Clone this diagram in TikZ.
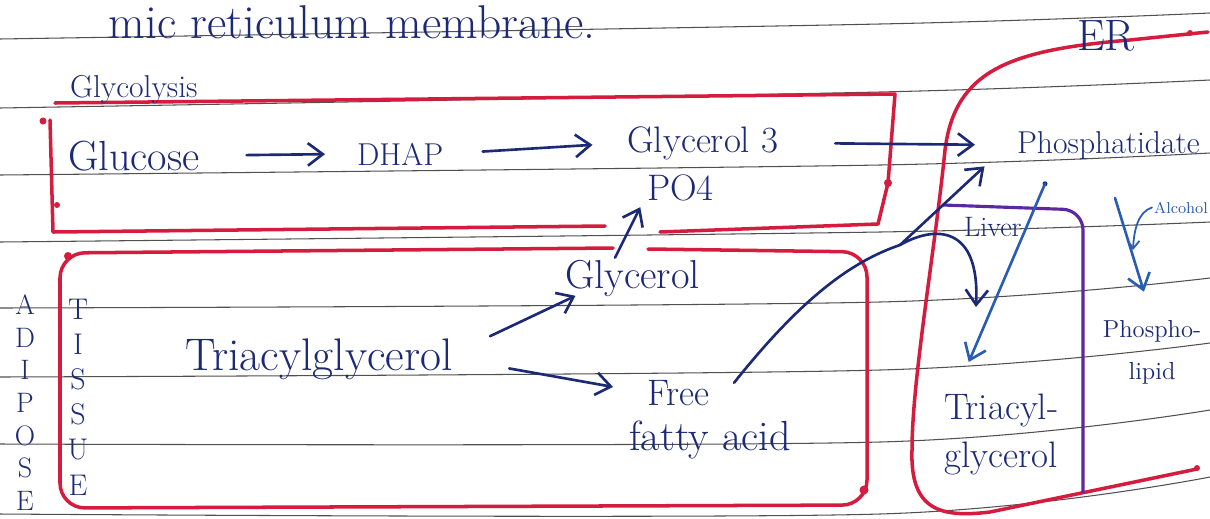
\documentclass[tikz,border=0pt]{standalone}
\usepackage{tikz}
\usetikzlibrary{arrows.meta,calc}
\definecolor{ink}{RGB}{28,42,118}
\definecolor{inklight}{RGB}{42,92,180}
\definecolor{pen}{RGB}{214,28,62}
\definecolor{liverink}{RGB}{92,40,162}
\definecolor{ruling}{RGB}{80,80,80}
\newcommand{\penfont}[1]{\fontsize{#1}{#1}\selectfont}

\begin{document}
\begin{tikzpicture}[x=0.02cm, y=-0.02cm,
    hand/.style={text=ink, inner sep=1pt},
    wire/.style={ink, line width=1.5pt, line cap=round},
    arr/.style={wire, -{Straight Barb[length=3mm,width=4.5mm]}},
    arrsmall/.style={wire, line width=1pt, -{Straight Barb[length=1.6mm,width=2.4mm]}},
    box/.style={pen, line width=2pt, line cap=round, line join=round},
    rule/.style={ruling, line width=0.6pt}]
        \fill[white] (0,0) rectangle (1210,518);
        \useasboundingbox (0,0) rectangle (1210,518);

        % ruled paper
        \draw[rule] plot[smooth] coordinates {(0,39) (880,24) (1210,13)};
        \draw[rule] plot[smooth] coordinates {(0,108) (880,92) (1210,80)};
        \draw[rule] plot[smooth] coordinates {(0,175) (880,165) (1210,153)};
        \draw[rule] plot[smooth] coordinates {(0,242) (880,232) (1210,222)};
        \draw[rule] plot[smooth] coordinates {(0,308) (880,302) (1210,278)};
        \draw[rule] plot[smooth] coordinates {(0,377) (880,370) (1210,343)};
        \draw[rule] plot[smooth] coordinates {(0,444) (880,442) (1210,410)};
        \draw[rule] plot[smooth] coordinates {(0,514) (880,514) (1210,477)};

        % boxes
        \draw[box] (50,120) -- (53,232) -- (605,226);
        \draw[box] (660,232) -- (878,224) -- (888,183) -- (895,94) -- (55,103);
        \draw[box, rounded corners=0.5cm] (613,248) -- (60,253) -- (60,508) -- (867,505) -- (867,252) -- (648,249);
        \draw[box] (1208,32) -- (1130,40) .. controls (1010,50) and (955,70) .. (945,150)
            .. controls (935,250) and (912,380) .. (912,450)
            .. controls (910,510) and (940,518) .. (990,512) -- (1197,469);
        \draw[liverink, line width=1.8pt, rounded corners=0.4cm] (943,205) -- (1083,210) -- (1083,493);

        \fill[pen] (43,121) circle (0.07cm);
        \fill[pen] (57,205) circle (0.06cm);
        \fill[pen] (888,183) circle (0.08cm);
        \fill[pen] (68,256) circle (0.08cm);
        \fill[pen] (864,490) circle (0.09cm);
        \fill[pen] (1190,33) circle (0.06cm);
        \fill[pen] (1197,468) circle (0.06cm);

        % texts
        \node[hand, anchor=base, font=\penfont{27}] (title) at (352,38) {mic reticulum membrane.};
        \node[hand, anchor=base west, font=\penfont{18}] (glyco) at (68,97) {Glycolysis};
        \node[hand, anchor=base west, font=\penfont{24}] (glucose) at (66,170) {Glucose};
        \node[hand, anchor=base west, font=\penfont{18}] (dhap) at (355,165) {DHAP};
        \node[hand, anchor=base west, font=\penfont{21}] (g3p) at (625,152) {Glycerol 3};
        \node[hand, anchor=base west, font=\penfont{21}] (po4) at (645,200) {PO4};
        \node[hand, anchor=base west, font=\penfont{18}] (phos) at (1015,153) {Phosphatidate};
        \node[hand, anchor=base west, font=\penfont{25}] (er) at (1075,50) {ER};
        \node[hand, anchor=base west, font=\penfont{23}] (glycerol) at (563,288) {Glycerol};
        \node[hand, anchor=base west, font=\penfont{26}] (tag) at (183,370) {Triacylglycerol};
        \node[hand, anchor=base west, font=\penfont{21}] (free) at (645,405) {Free};
        \node[hand, anchor=base west, font=\penfont{24}] (fatty) at (627,450) {fatty acid};
        \node[hand, anchor=base west, font=\penfont{16}] (liver) at (962,236) {Liver};
        \node[hand, anchor=base west, font=\penfont{9}, text=inklight] (alcohol) at (1152,213) {Alcohol};
        \node[hand, align=center, anchor=north, font=\fontsize{14}{24}\selectfont] (pl) at (1152,318) {Phospho-\\lipid};
        \node[hand, align=left, anchor=north west, font=\fontsize{21}{27}\selectfont] (tagl) at (942,392) {Triacyl-\\glycerol};
        \node[hand, align=center, anchor=north, font=\fontsize{16}{18.5}\selectfont] (adipose) at (25,293) {A\\D\\I\\P\\O\\S\\E};
        \node[hand, align=center, anchor=north, font=\fontsize{17}{20}\selectfont] (tissue) at (78,297) {T\\I\\S\\S\\U\\E};

        % arrows
        \draw[arr, shorten <=0.9cm, shorten >=0.6cm] (glucose.east) -- (dhap.west);
        \draw[arr, shorten <=0.75cm, shorten >=0.65cm] (dhap.east) -- (g3p.west);
        \draw[arr, shorten <=1.1cm, shorten >=0.8cm] (g3p.east) -- (phos.west);
        \draw[arr, shorten >=0.1cm] ([xshift=-0.35cm]glycerol.north) -- ([xshift=-0.05cm]po4.south west);
        \draw[arr] ([xshift=0.7cm]tag.north east) -- ([xshift=0.25cm,yshift=0.05cm]glycerol.south west);
        \draw[arr, shorten <=1.1cm, shorten >=0.65cm] (tag.east) -- (free.west);

        \coordinate (fork) at (900,245);
        \coordinate (lvtip) at (976,307);
        \draw[wire] ([xshift=0.45cm,yshift=-0.1cm]free.north east) .. controls (800,300) and (850,262) .. (fork);
        \draw[arr, shorten >=0.15cm] (fork) -- ([xshift=-0.5cm]phos.south west);
        \draw[arr] (fork) .. controls (935,225) and (980,225) .. (lvtip);

        \fill[ink] ([xshift=0.6cm,yshift=-0.45cm]phos.south west) circle (0.05cm);
        \draw[arr, inklight] ([xshift=0.6cm,yshift=-0.45cm]phos.south west) -- ([xshift=-0.65cm,yshift=0.6cm]tagl.north);

        \coordinate (alctop) at (1115,198);
        \coordinate (hook) at (1133,250);
        \draw[arr, inklight, shorten >=0.55cm] (alctop) -- (pl.north);
        \draw[arrsmall, inklight] (alcohol.west) .. controls (1138,212) and (1134,230) .. (hook);
\end{tikzpicture}
\end{document}
